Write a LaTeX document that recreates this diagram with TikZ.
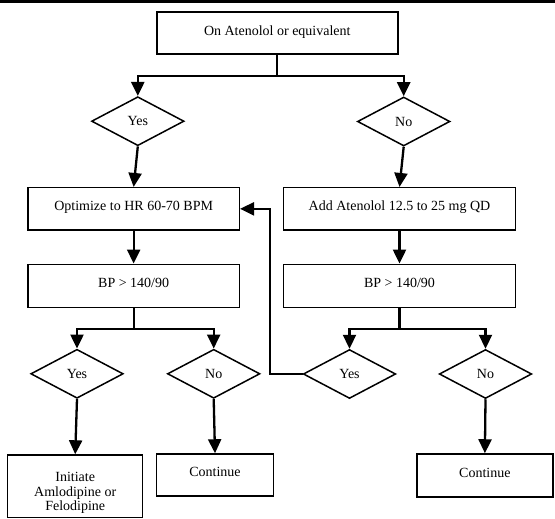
\documentclass[tikz,border=0pt]{standalone}
\usepackage{fontspec}
\setmainfont{Liberation Serif}
\usetikzlibrary{shapes.geometric,arrows.meta}
\tikzset{
  x=1pt,y=-1pt,
  every node/.style={font=\fontsize{14}{14.5}\selectfont},
  box/.style={draw,line width=1.5pt,rectangle,inner sep=0pt,text height=9pt,text depth=5.3pt},
  dia/.style={draw,line width=1.5pt,diamond,inner sep=0pt,minimum width=92.5pt,minimum height=49pt},
  conn/.style={line width=2.3pt},
  arr/.style={conn,-{Triangle[width=13pt,length=14pt]}},
}
\begin{document}
\begin{tikzpicture}
\useasboundingbox (0,0) rectangle (555,519);
\fill[black] (0,0) rectangle (555,2.7);
% boxes
\node[box,minimum width=241pt,minimum height=42pt] (top) at (277.3,33.2) {On Atenolol or equivalent};
\node[box,minimum width=211.3pt,minimum height=42.3pt] (opt) at (133.65,208.85) {Optimize to HR 60-70 BPM};
\node[box,minimum width=232.4pt,minimum height=42.3pt] (add) at (399.5,208.85) {Add Atenolol 12.5 to 25 mg QD};
\node[box,minimum width=211.3pt,minimum height=43pt] (bp1) at (133.65,285.8) {BP > 140/90};
\node[box,minimum width=232.4pt,minimum height=43pt] (bp2) at (399.5,285.8) {BP > 140/90};
\node[box,text height=0pt,text depth=0pt,minimum width=135pt,minimum height=62.3pt] (init) at (75.2,486.2)
  {\raisebox{-10.5pt}[0pt][0pt]{\begin{tabular}{@{}c@{}}Initiate\\Amlodipine or\\Felodipine\end{tabular}}};
\node[box,minimum width=116.6pt,minimum height=42pt] (cont1) at (215,475) {Continue};
\node[box,minimum width=136.3pt,minimum height=43pt] (cont2) at (484.9,475.5) {Continue};
% diamonds
\node[dia] (yes1) at (137.8,121.2) {Yes};
\node[dia] (no1) at (403.7,121.5) {No};
\node[dia] (yes2) at (77,373.8) {Yes};
\node[dia] (no2) at (213.7,373.8) {No};
\node[dia] (yes3) at (349.5,374) {Yes};
\node[dia] (no3) at (485.5,374) {No};
% connectors
\draw[conn] (top.south) -- ++(0,21.1) coordinate (j1);
\draw[arr] (j1) -| (yes1.north);
\draw[arr] (j1) -| (no1.north);
\draw[arr] (yes1.south) -- (opt.north);
\draw[arr] (no1.south) -- (add.north);
\draw[arr] (opt.south) -- (bp1.north);
\draw[arr] (add.south) -- (bp2.north);
\draw[conn] (bp1.south) -- ++(0,21) coordinate (j2);
\draw[arr] (j2) -| (yes2.north);
\draw[arr] (j2) -| (no2.north);
\draw[conn] (bp2.south) -- ++(0,21) coordinate (j3);
\draw[arr] (j3) -| (yes3.north);
\draw[arr] (j3) -| (no3.north);
\draw[arr] (yes2.south) -- (init.north);
\draw[arr] (no2.south) -- (cont1.north);
\draw[arr] (no3.south) -- (cont2.north);
\coordinate (fb) at (270,300);
\draw[arr] (yes3.west) -- (yes3.west -| fb) |- (opt.east);
\end{tikzpicture}
\end{document}
